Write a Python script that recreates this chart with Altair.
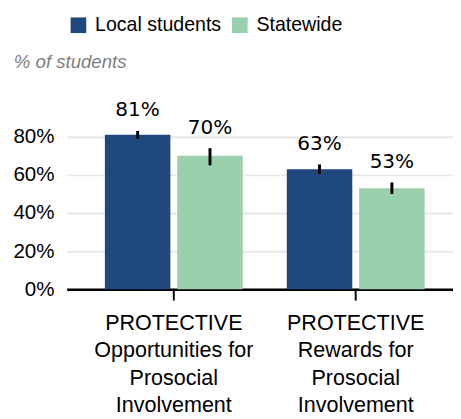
import altair as alt
import pandas as pd

categories = ["PROTECTIVE|Opportunities for|Prosocial|Involvement",
              "PROTECTIVE|Rewards for|Prosocial|Involvement"]
groups = ["Local students", "Statewide"]
local_vals = [81, 63]
state_vals = [70, 53]
local_lo = [79, 60.5]
local_hi = [83, 65.5]
state_lo = [65, 50]
state_hi = [74, 56]
colors = ["#1F497D", "#9BD0AD"]

rows = []
for i, c in enumerate(categories):
    rows.append(dict(cat=c, grp=groups[0], val=local_vals[i], lo=local_lo[i], hi=local_hi[i],
                     lab=f"{local_vals[i]}%"))
    rows.append(dict(cat=c, grp=groups[1], val=state_vals[i], lo=state_lo[i], hi=state_hi[i],
                     lab=f"{state_vals[i]}%"))
df = pd.DataFrame(rows)

xenc = alt.X("cat:N", sort=categories, title=None,
             scale=alt.Scale(paddingInner=0.242, paddingOuter=0.183, align=0.574),
             axis=alt.Axis(labelExpr="split(datum.label, '|')", labelAngle=0,
                           labelFont="Liberation Sans", labelFontSize=22, labelColor="black",
                           labelLineHeight=28, labelPadding=13, tickSize=11, tickColor="black",
                           tickWidth=2, domainColor="black", domainWidth=2.5, grid=False,
                           labelLimit=300))
xoff = alt.XOffset("grp:N", sort=groups,
                   scale=alt.Scale(paddingInner=0.095, paddingOuter=0))
yscale = alt.Scale(domain=[0, 100])

bars = alt.Chart(df).mark_bar().encode(
    x=xenc,
    xOffset=xoff,
    y=alt.Y("val:Q", scale=yscale, title=None,
            axis=alt.Axis(values=[0, 20, 40, 60, 80], format=".0f", labelExpr="datum.label + '%'",
                          labelFont="Liberation Sans", labelFontSize=21, labelColor="black",
                          labelPadding=13, ticks=False, domain=False,
                          gridColor="#e8e8e8", gridWidth=2)),
    color=alt.Color("grp:N", sort=groups, scale=alt.Scale(domain=groups, range=colors),
                    legend=alt.Legend(title=None, orient="none", legendX=2, legendY=-85,
                                      direction="horizontal", symbolType="square",
                                      symbolSize=256, symbolStrokeWidth=0,
                                      labelFont="Liberation Sans", labelFontSize=20,
                                      labelColor="black", labelOffset=7, columnPadding=9,
                                      padding=0)),
)

err = alt.Chart(df).mark_rule(color="black", strokeWidth=3).encode(
    x=alt.X("cat:N", sort=categories),
    xOffset=xoff,
    y=alt.Y("lo:Q", scale=yscale),
    y2="hi:Q",
)

labels = alt.Chart(df).mark_text(font="DejaVu Sans", fontSize=20.5, color="black",
                                 baseline="alphabetic", dy=-15).encode(
    x=alt.X("cat:N", sort=categories),
    xOffset=xoff,
    y=alt.Y("hi:Q", scale=yscale),
    text="lab:N",
)

subtitle = alt.Chart(pd.DataFrame({"t": ["% of students"]})).mark_text(
    font="Liberation Sans", fontSize=19, fontStyle="italic", color="#7f7f7f",
    align="left", baseline="alphabetic").encode(
    x=alt.value(-54), y=alt.value(-31), text="t:N")

chart = alt.layer(bars, err, labels, subtitle).properties(
    width=395, height=195,
    padding={"left": 4, "top": 3, "right": 0, "bottom": 0},
).configure_view(stroke=None)

chart.save("out.html", embed_options={"renderer": "svg", "actions": False})
